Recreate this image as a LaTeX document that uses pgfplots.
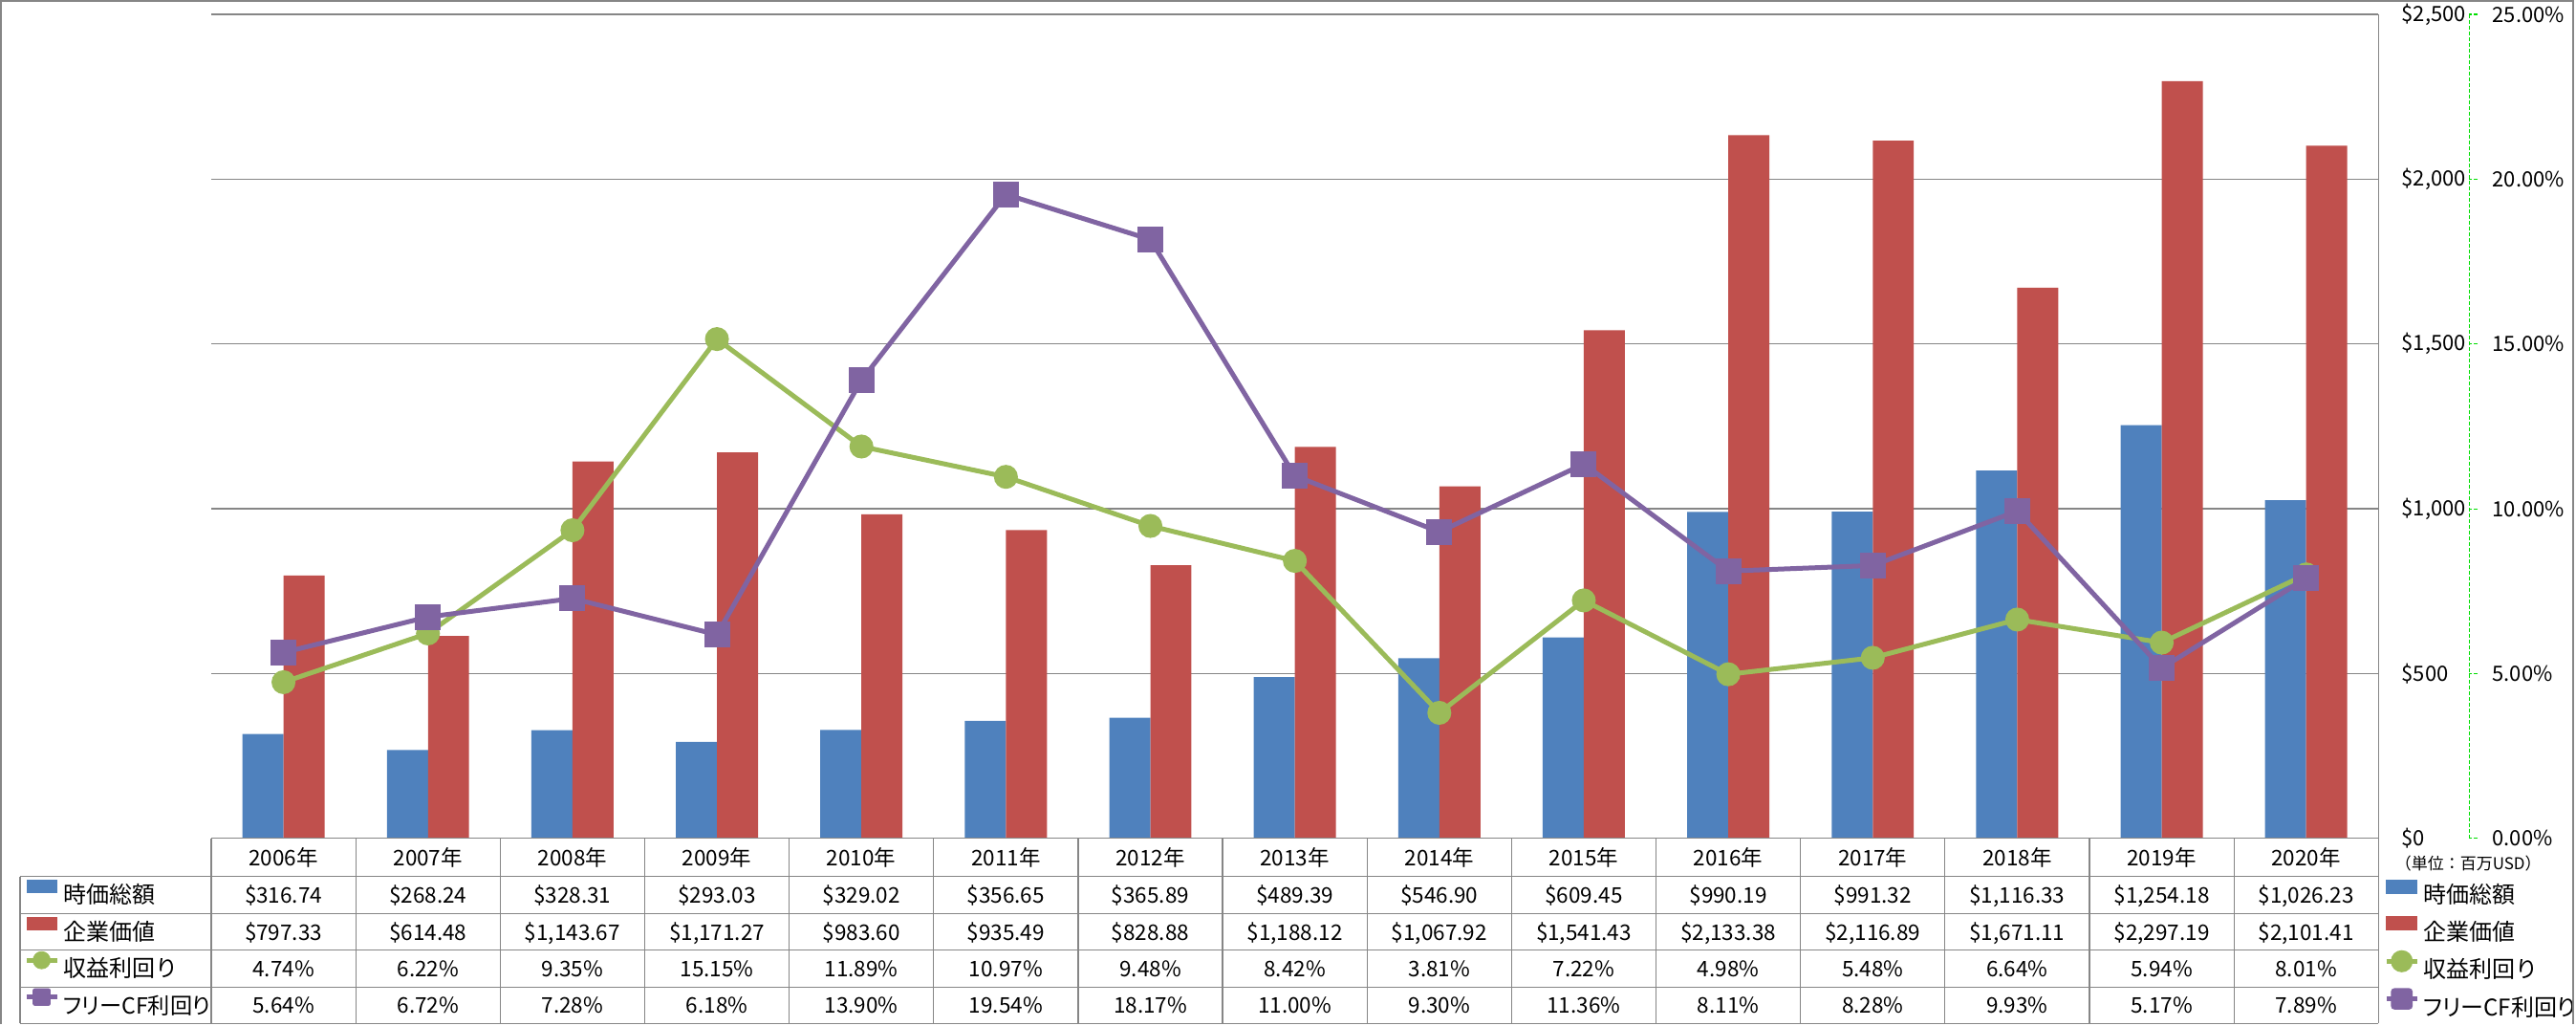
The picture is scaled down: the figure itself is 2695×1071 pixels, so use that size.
\documentclass[border=0pt]{standalone}
\usepackage{pgfplots}
\pgfplotsset{compat=1.18}
\usepackage{fontspec}
\setmainfont{Noto Sans CJK JP}
\newfontfamily\jpp{Noto Sans CJK JP}[RawFeature=+palt]
\definecolor{c1}{HTML}{4F81BD}
\definecolor{c2}{HTML}{C0504D}
\definecolor{c3}{HTML}{9BBB59}
\definecolor{c4}{HTML}{8064A2}
\definecolor{gridgray}{HTML}{868686}
\definecolor{axgreen}{HTML}{00DD00}
\newcommand\tabfont{\fontsize{11.25}{13}\selectfont}
\newcommand\labfont{\fontsize{12}{14}\selectfont}
\newcommand\axfont{\fontsize{11}{13}\selectfont}
\begin{document}
\begin{tikzpicture}
\begin{scope}[x=0.5pt,y=-0.5pt]
\path[use as bounding box] (0,0) rectangle (2695,1071);
\end{scope}

% ---------- bars (primary axis) ----------
\begin{axis}[
  at={(110.5pt,-438.5pt)}, anchor=south west,
  scale only axis, width=1134pt, height=431pt,
  xmin=-0.5, xmax=14.5, ymin=0, ymax=2500,
  ytick={0,500,...,2500}, xtick=\empty,
  ymajorgrids, grid style={gridgray, line width=0.65pt},
  axis line style={draw=none}, major tick length=0pt,
  yticklabel pos=right,
  /pgf/number format/assume math mode=true,
  yticklabel={\$\pgfmathprintnumber[1000 sep={,}]{\tick}},
  yticklabel style={anchor=west, inner sep=0pt, xshift=12pt, font=\axfont},
  ybar, bar width=21.5pt,
  legend style={at={(-0.08642,-0.0464)}, anchor=north west, draw=none, fill=none,
    inner sep=0pt, outer sep=0pt, row sep=0pt,
    nodes={inner sep=0pt, text height=14pt, text depth=5.25pt, font=\labfont},
    /tikz/every odd column/.append style={column sep=2pt}},
  legend cell align=left,
  clip=false,
]
\addplot[fill=c1, draw=none, bar shift=-10.75pt,
  legend image code/.code={\fill[c1] (0pt,0.9pt) rectangle (16pt,7.9pt);}]
  coordinates {(0,316.74) (1,268.24) (2,328.31) (3,293.03) (4,329.02) (5,356.65) (6,365.89) (7,489.39) (8,546.90) (9,609.45) (10,990.19) (11,991.32) (12,1116.33) (13,1254.18) (14,1026.23)};
\addplot[fill=c2, draw=none, bar shift=10.75pt,
  legend image code/.code={\fill[c2] (0pt,0.9pt) rectangle (16pt,7.9pt);}]
  coordinates {(0,797.33) (1,614.48) (2,1143.67) (3,1171.27) (4,983.60) (5,935.49) (6,828.88) (7,1188.12) (8,1067.92) (9,1541.43) (10,2133.38) (11,2116.89) (12,1671.11) (13,2297.19) (14,2101.41)};
\addlegendimage{legend image code/.code={\draw[c3, line width=2.5pt] (0pt,4.4pt) -- (16pt,4.4pt); \fill[c3] (8pt,4.4pt) circle (4.5pt);}}
\addlegendimage{legend image code/.code={\draw[c4, line width=2.5pt] (0pt,4.4pt) -- (16pt,4.4pt); \fill[c4, rounded corners=1pt] (3.5pt,0pt) rectangle (12.5pt,8.8pt);}}
\legend{時価総額,企業価値,収益利回り,{\jpp\fontsize{11.6}{14}\selectfont フリーCF利回り}}
\end{axis}

% ---------- lines (secondary axis) ----------
\begin{axis}[
  at={(110.5pt,-438.5pt)}, anchor=south west,
  scale only axis, width=1181.5pt, height=431pt,
  xmin=-0.5, xmax=15.128, ymin=0, ymax=25,
  axis x line=none,
  axis y line*=right,
  y axis line style={-, axgreen, dash pattern=on 2pt off 1pt, line width=0.6pt},
  ytick={0,5,...,25},
  tick align=outside, major tick length=4.5pt,
  ytick style={axgreen, dash pattern=on 2pt off 1pt, line width=0.6pt},
  /pgf/number format/assume math mode=true,
  yticklabel={\pgfmathprintnumber[fixed,fixed zerofill,precision=2]{\tick}\%},
  yticklabel style={anchor=west, inner sep=0pt, xshift=7.5pt, font=\axfont},
  legend style={at={(0.96233,-0.0464)}, anchor=north west, draw=none, fill=none,
    inner sep=0pt, outer sep=0pt, row sep=0pt,
    nodes={inner sep=0pt, text height=14pt, text depth=5.25pt, font=\labfont},
    /tikz/every odd column/.append style={column sep=2pt}},
  legend cell align=left,
  clip=false,
]
\addlegendimage{legend image code/.code={\fill[c1] (0pt,0.9pt) rectangle (16pt,7.9pt);}}
\addlegendimage{legend image code/.code={\fill[c2] (0pt,0.9pt) rectangle (16pt,7.9pt);}}
\addplot[c3, line width=2.5pt, mark=*, mark size=5pt, mark options={fill=c3, draw=none},
  legend image code/.code={\draw[c3, line width=2.5pt] (0pt,4.4pt) -- (16pt,4.4pt); \fill[c3] (8pt,4.4pt) circle (4.5pt);}]
  coordinates {(0,4.74) (1,6.22) (2,9.35) (3,15.15) (4,11.89) (5,10.97) (6,9.48) (7,8.42) (8,3.81) (9,7.22) (10,4.98) (11,5.48) (12,6.64) (13,5.94) (14,8.01)};
\addplot[c4, line width=2.5pt, mark=square*, mark size=5.5pt, mark options={fill=c4, draw=none, rounded corners=1.5pt},
  legend image code/.code={\draw[c4, line width=2.5pt] (0pt,4.4pt) -- (16pt,4.4pt); \fill[c4, rounded corners=1pt] (3.5pt,0pt) rectangle (12.5pt,8.8pt);}]
  coordinates {(0,5.64) (1,6.72) (2,7.28) (3,6.18) (4,13.90) (5,19.54) (6,18.17) (7,11.00) (8,9.30) (9,11.36) (10,8.11) (11,8.28) (12,9.93) (13,5.17) (14,7.89)};
\legend{時価総額,企業価値,収益利回り,{\jpp フリーCF利回り}}
\end{axis}

% ---------- data table ----------
\begin{scope}[x=0.5pt,y=-0.5pt]
\draw[gridgray, line width=0.9pt] (0.8,1071) -- (0.8,0.8) -- (2693,0.8) -- (2693,1071);
\draw[gridgray, line width=0.6pt] (2489,15) -- (2489,1070.5);
\draw[gridgray, line width=0.6pt] (221,877) -- (2489,877);
\foreach \yy in {917,955.5,994,1032.5,1070.5} \draw[gridgray, line width=0.6pt] (21,\yy) -- (2489,\yy);
\draw[gridgray, line width=0.6pt] (21,917) -- (21,1070.5);
\foreach \k in {0,...,14} \draw[gridgray, line width=0.6pt] ({221+151.2*\k},877) -- ({221+151.2*\k},1070.5);
\foreach \t [count=\i from 0] in {2006,...,2020}
  \node[font=\tabfont, anchor=base, inner sep=0pt] at ({296.6+151.2*\i},905.5) {\t 年};
\foreach \t [count=\i from 0] in {{\$316.74},{\$268.24},{\$328.31},{\$293.03},{\$329.02},{\$356.65},{\$365.89},{\$489.39},{\$546.90},{\$609.45},{\$990.19},{\$991.32},{\$1,116.33},{\$1,254.18},{\$1,026.23}}
  \node[font=\tabfont, anchor=base, inner sep=0pt] at ({296.6+151.2*\i},945) {\t};
\foreach \t [count=\i from 0] in {{\$797.33},{\$614.48},{\$1,143.67},{\$1,171.27},{\$983.60},{\$935.49},{\$828.88},{\$1,188.12},{\$1,067.92},{\$1,541.43},{\$2,133.38},{\$2,116.89},{\$1,671.11},{\$2,297.19},{\$2,101.41}}
  \node[font=\tabfont, anchor=base, inner sep=0pt] at ({296.6+151.2*\i},983.5) {\t};
\foreach \t [count=\i from 0] in {4.74,6.22,9.35,15.15,11.89,10.97,9.48,8.42,3.81,7.22,4.98,5.48,6.64,5.94,8.01}
  \node[font=\tabfont, anchor=base, inner sep=0pt] at ({296.6+151.2*\i},1022) {\t\%};
\foreach \t [count=\i from 0] in {5.64,6.72,7.28,6.18,13.90,19.54,18.17,11.00,9.30,11.36,8.11,8.28,9.93,5.17,7.89}
  \node[font=\tabfont, anchor=base, inner sep=0pt] at ({296.6+151.2*\i},1060) {\t\%};
\node[font=\fontsize{8.5}{10}\selectfont, inner sep=0pt] at (2583,903) {（単位：百万USD）};
\end{scope}
\end{tikzpicture}
\end{document}
